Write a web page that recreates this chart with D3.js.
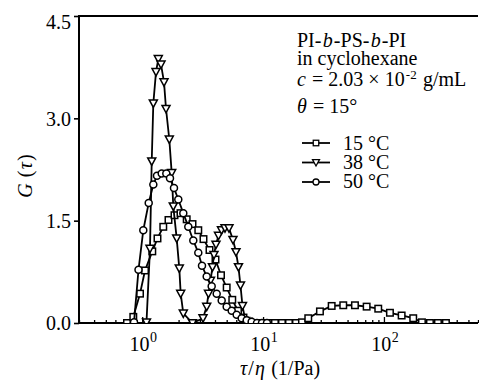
<!DOCTYPE html>
<html><head><meta charset="utf-8">
<script src="https://cdn.jsdelivr.net/npm/d3@7"></script>
<style>body{margin:0;background:#fff}svg{display:block}</style>
</head><body>
<svg id="c" width="479" height="380"></svg>
<script>
// ---- data ----
const tau15 = [0.7486, 0.8440, 0.9590, 1.0548, 1.212, 1.338, 1.494, 1.650, 1.850, 2.074, 2.334, 2.607, 2.911, 3.214, 3.604, 4.040, 4.486, 5.000, 5.562, 6.200, 6.884, 7.646, 8.570, 9.608, 10.98, 12.54, 14.33, 16.38, 18.71, 20.98, 23.65, 29.55, 36.94, 46.07, 57.56, 71.93, 89.71, 112.1, 140.1, 174.7, 206.2, 240.2, 279.7, 325.7];
const g15   = [0, 0.09, 0.43, 0.77, 1.05, 1.24, 1.41, 1.51, 1.58, 1.61, 1.52, 1.45, 1.36, 1.23, 1.07, 0.93, 0.70, 0.52, 0.34, 0.18, 0.08, 0.02, 0, 0, 0, 0, 0, 0, 0, 0.01, 0.07, 0.17, 0.25, 0.26, 0.26, 0.24, 0.21, 0.15, 0.11, 0.07, 0.01, 0, 0, 0];
const tau38 = [1.085, 1.160, 1.199, 1.236, 1.301, 1.359, 1.431, 1.515, 1.574, 1.676, 1.754, 1.808, 1.929, 2.027, 2.082, 2.188, 2.607, 3.184, 3.416, 3.535, 3.672, 3.815, 3.925, 4.078, 4.277, 4.528, 4.841, 5.223, 5.637, 5.968, 6.259, 6.503, 6.755, 7.151];
const g38   = [0.01, 1.09, 2.37, 3.22, 3.68, 3.87, 3.79, 3.53, 3.14, 2.69, 2.20, 1.71, 1.24, 0.80, 0.43, 0.14, 0, 0.07, 0.24, 0.43, 0.62, 0.82, 1.00, 1.15, 1.28, 1.36, 1.39, 1.39, 1.22, 1.04, 0.82, 0.55, 0.25, 0.03];
const tau50 = [0.8554, 0.932, 1.021, 1.132, 1.236, 1.326, 1.450, 1.583, 1.698, 1.832, 1.989, 2.188, 2.406, 2.647, 2.911, 3.124, 3.416, 3.757, 4.133, 4.546, 5.000, 5.499, 6.048, 6.652, 7.317, 8.048, 8.904, 9.792, 10.77];
const g50   = [0.01, 0.78, 1.36, 1.76, 2.03, 2.16, 2.19, 2.19, 2.12, 1.98, 1.81, 1.61, 1.41, 1.21, 1.03, 0.84, 0.68, 0.54, 0.43, 0.33, 0.24, 0.18, 0.12, 0.07, 0.04, 0.02, 0, 0, 0];
const seriesNames = ["15 °C", "38 °C", "50 °C"];
const yTicks = [0, 1.5, 3.0, 4.5];
const xMajor = [1, 10, 100];
const xMajorExp = ["0", "1", "2"];

// ---- layout ----
const FONT = "'Liberation Serif','Times New Roman',serif";
const L = 79, R = 478, T = 16, B = 323;
const svg = d3.select("#c");
const x = d3.scaleLog().domain([0.3, 600]).range([L, R]);
const y = d3.scaleLinear().domain([0, 4.5]).range([B, T]);

// place a sequence of styled runs as separate text elements
function runs(parent, x0, y0, parts, anchor, gap) {
  gap = gap === undefined ? 1.2 : gap;
  const g = parent.append("g").attr("font-family", FONT).attr("fill", "#000");
  let cx = 0;
  parts.forEach((p, i) => {
    const o = p[1] || {};
    const t = g.append("text").attr("x", cx).attr("y", o.dy || 0)
      .attr("font-size", o.size || 20).attr("font-style", o.italic ? "italic" : "normal")
      .style("white-space", "pre").text(p[0]);
    cx += t.node().getComputedTextLength() + (i < parts.length - 1 ? gap : 0);
  });
  const shift = anchor === "middle" ? -cx / 2 : 0;
  g.attr("transform", `translate(${x0 + shift},${y0})`);
  return g;
}

svg.append("defs").append("clipPath").attr("id","clip")
  .append("rect").attr("x", L).attr("y", 0).attr("width", 479 - L).attr("height", B);

// minor x ticks
const minor = [];
[0.1, 1, 10, 100].forEach(d => { for (let k = 2; k <= 9; k++) { const v = k * d; if (v >= 0.3 && v <= 600 && !xMajor.includes(v)) minor.push(v); } });
const gxMin = svg.append("g").attr("transform", `translate(0,${B})`)
  .call(d3.axisBottom(x).tickValues(minor).tickSize(-3).tickFormat(""));
gxMin.select(".domain").remove();
const gxMaj = svg.append("g").attr("transform", `translate(0,${B})`)
  .call(d3.axisBottom(x).tickValues(xMajor).tickSize(-6).tickFormat(""));
gxMaj.select(".domain").remove();
svg.selectAll(".tick line").attr("stroke", "#000").attr("stroke-width", 1.3);

// x labels with superscripts
xMajor.forEach((v, i) => {
  runs(svg, x(v) + 1, 351, [["10"], [xMajorExp[i], {size: 14, dy: -9}]], "middle", 0.5);
});

// y axis
const gy = svg.append("g").attr("transform", `translate(${L},0)`)
  .call(d3.axisLeft(y).tickValues(yTicks).tickSize(5).tickPadding(3).tickFormat(d3.format(".1f")));
gy.select(".domain").remove();
gy.selectAll(".tick line").attr("stroke", "#000").attr("stroke-width", 1.6);
gy.selectAll(".tick text").attr("font-family", FONT).attr("font-size", 20).attr("fill", "#000")
  .attr("dy", d => d === 4.5 ? "0.62em" : "0.34em");

// frame
svg.append("line").attr("x1", L).attr("x2", L).attr("y1", T).attr("y2", B + 1).attr("stroke", "#000").attr("stroke-width", 2);
svg.append("line").attr("x1", L - 1).attr("x2", R).attr("y1", B).attr("y2", B).attr("stroke", "#000").attr("stroke-width", 2);
svg.append("line").attr("x1", L - 1).attr("x2", R).attr("y1", T).attr("y2", T).attr("stroke", "#000").attr("stroke-width", 2);

// markers
const triPath = s => `M${-s/2},${-s*0.42}L${s/2},${-s*0.42}L0,${s*0.5}Z`;
function drawMarker(g, kind, cx, cy, s) {
  if (kind === "sq") g.append("rect").attr("x", cx - s/2).attr("y", cy - s/2).attr("width", s).attr("height", s);
  else if (kind === "tri") g.append("path").attr("d", triPath(s)).attr("transform", `translate(${cx},${cy})`);
  else g.append("circle").attr("cx", cx).attr("cy", cy).attr("r", s/2);
}

const series = [
  {tau: tau15, g: g15, kind: "sq", size: 6.5},
  {tau: tau38, g: g38, kind: "tri", size: 8},
  {tau: tau50, g: g50, kind: "ci", size: 7}
];
const plot = svg.append("g").attr("clip-path", "url(#clip)");
const line = d3.line().x(d => x(d[0])).y(d => y(d[1]));
series.forEach(s => {
  const pts = s.tau.map((t, i) => [t, s.g[i]]);
  plot.append("path").datum(pts).attr("d", line).attr("fill", "none").attr("stroke", "#000").attr("stroke-width", 1.8);
  const mg = plot.append("g").attr("fill", "#fff").attr("stroke", "#000").attr("stroke-width", 1.5);
  pts.forEach(p => drawMarker(mg, s.kind, x(p[0]), y(p[1]), s.size));
});

// annotation text
runs(svg, 297, 47, [["PI-"], ["b", {italic: true}], ["-PS-"], ["b", {italic: true}], ["-PI"]]);
runs(svg, 297, 65, [["in cyclohexane"]]);
runs(svg, 297, 86, [["c", {italic: true}], [" = 2.03 × 10"], ["-2", {size: 13, dy: -7}], [" g/mL"]]);
runs(svg, 297, 113, [["θ", {italic: true}], [" = 15°"]]);

// legend
const legY = [143, 162.5, 182];
const legBase = [150, 169, 188];
series.forEach((s, i) => {
  const lg = svg.append("g");
  lg.append("line").attr("x1", 302).attr("x2", 330).attr("y1", legY[i]).attr("y2", legY[i]).attr("stroke", "#000").attr("stroke-width", 1.8);
  const mg = lg.append("g").attr("fill", "#fff").attr("stroke", "#000").attr("stroke-width", 1.3);
  drawMarker(mg, s.kind, 316, legY[i], s.size - 1);
  lg.append("text").attr("x", 343).attr("y", legBase[i]).attr("font-family", FONT).attr("font-size", 20).text(seriesNames[i]);
});

// axis titles
runs(svg, 280, 375, [["τ", {italic: true}], ["/"], ["η", {italic: true}], [" (1/Pa)"]], "middle");
const yg = svg.append("g").attr("transform", "translate(32,176) rotate(-90)");
runs(yg, 0, 0, [["G", {italic: true}], [" ("], ["τ", {italic: true}], [")"]], "middle");
</script>
</body></html>
